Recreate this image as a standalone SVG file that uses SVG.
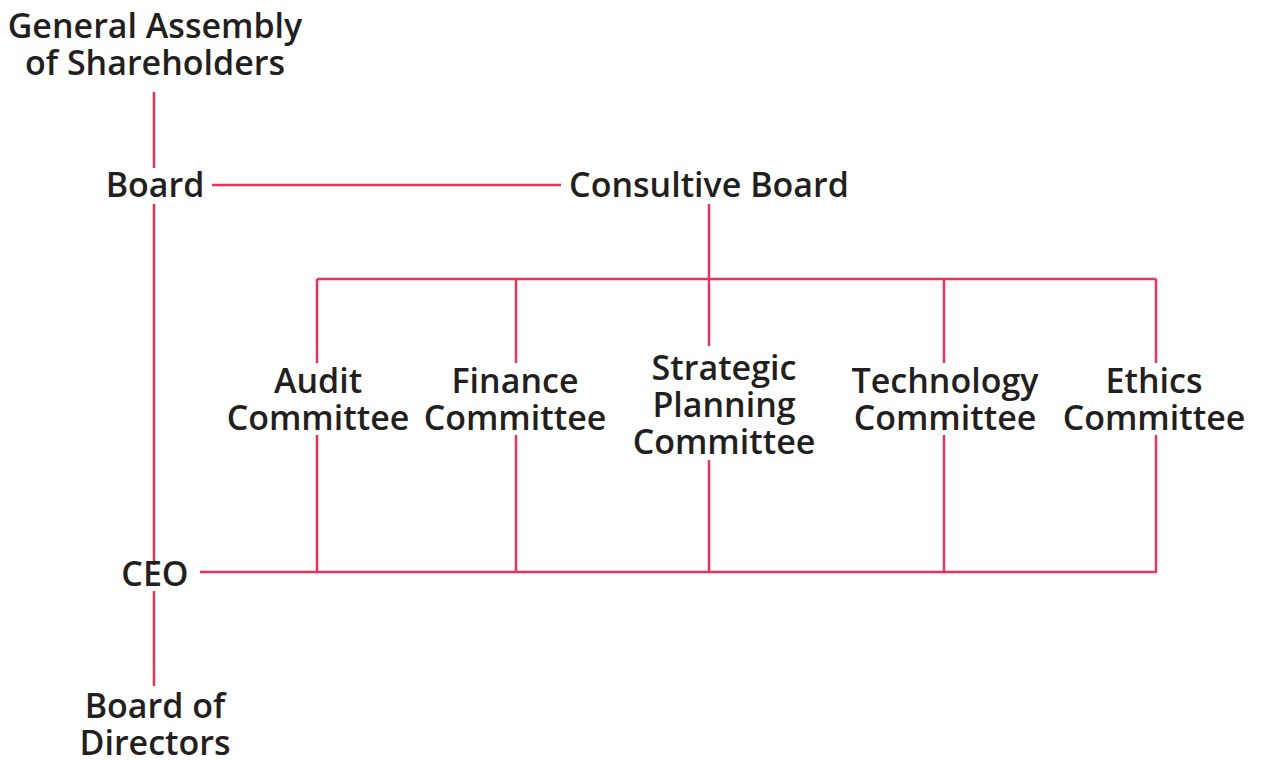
<svg xmlns="http://www.w3.org/2000/svg" width="1261" height="760" viewBox="0 0 1261 760">
<style>
text{font-family:"Open Sans","Noto Sans",sans-serif;font-size:34px;fill:#231f20;text-anchor:middle;font-weight:600}
.c line{stroke:#e8325a;stroke-width:2.5;fill:none}
</style>
<rect width="1261" height="760" fill="#fff"/>
<g class="c" id="connectors">
<line x1="154" y1="92" x2="154" y2="168"/>
<line x1="212" y1="185" x2="561" y2="185"/>
<line x1="154" y1="204" x2="154" y2="565"/>
<line x1="154" y1="591" x2="154" y2="686"/>
<line x1="709" y1="204" x2="709" y2="346"/>
<line x1="317" y1="279" x2="1156" y2="279"/>
<line x1="317" y1="279" x2="317" y2="363"/>
<line x1="516" y1="279" x2="516" y2="363"/>
<line x1="944" y1="279" x2="944" y2="363"/>
<line x1="1156" y1="279" x2="1156" y2="363"/>
<line x1="317" y1="435" x2="317" y2="572"/>
<line x1="516" y1="435" x2="516" y2="572"/>
<line x1="709" y1="460" x2="709" y2="572"/>
<line x1="944" y1="435" x2="944" y2="572"/>
<line x1="1156" y1="435" x2="1156" y2="572"/>
<line x1="200" y1="572" x2="1157" y2="572"/>
</g>
<g id="gas"><text x="155" y="38">General Assembly</text><text x="155" y="75">of Shareholders</text></g>
<g id="board"><text x="155" y="197">Board</text></g>
<g id="consultive"><text x="709" y="197">Consultive Board</text></g>
<g id="audit"><text x="318" y="393">Audit</text><text x="318" y="430">Committee</text></g>
<g id="finance"><text x="515" y="393">Finance</text><text x="515" y="430">Committee</text></g>
<g id="strategic"><text x="724" y="380">Strategic</text><text x="724" y="417">Planning</text><text x="724" y="454">Committee</text></g>
<g id="technology"><text x="945" y="393">Technology</text><text x="945" y="430">Committee</text></g>
<g id="ethics"><text x="1154" y="393">Ethics</text><text x="1154" y="430">Committee</text></g>
<g id="ceo"><text x="155" y="586">CEO</text></g>
<g id="bod"><text x="155" y="718">Board of</text><text x="155" y="755">Directors</text></g>
</svg>
